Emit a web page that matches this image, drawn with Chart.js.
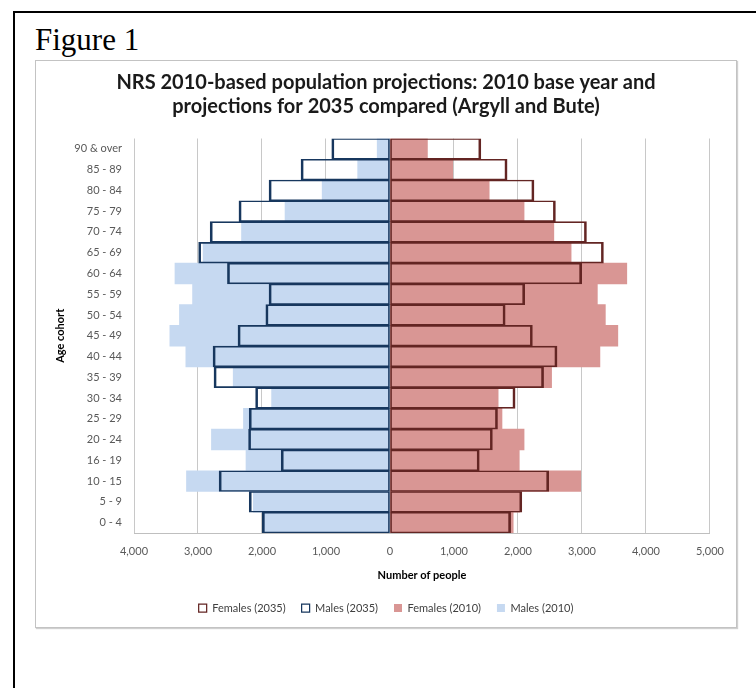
<!DOCTYPE html>
<html><head><meta charset="utf-8">
<script src="https://cdn.jsdelivr.net/npm/chart.js@4"></script>
<style>
html,body{margin:0;padding:0;background:#fff;width:756px;height:688px;overflow:hidden;}
#frame{position:absolute;left:13px;top:11px;width:800px;height:800px;border-top:2px solid #000;border-left:2px solid #000;}
#fig{position:absolute;left:35px;top:22px;font-family:"Liberation Serif";font-size:31px;line-height:36px;color:#000;white-space:nowrap;}
#box{position:absolute;left:35px;top:60px;width:700px;height:566px;border:1px solid #c3c3c3;box-shadow:1px 1px 1px #d0d0d0;background:#fff;}
canvas{display:block}
</style></head><body>
<div id="frame"></div>
<div id="fig">Figure 1</div>
<div id="box"><canvas id="c" width="700" height="566"></canvas></div>
<script>
const ageGroups = ["0 - 4","5 - 9","10 - 15","16 - 19","20 - 24","25 - 29","30 - 34","35 - 39","40 - 44","45 - 49","50 - 54","55 - 59","60 - 64","65 - 69","70 - 74","75 - 79","80 - 84","85 - 89","90 & over"];
const males2010   = [1980, 2135, 3180, 2250, 2790, 2290, 1850, 2450, 3190, 3440, 3290, 3085, 3360, 2920, 2320, 1640, 1060, 505, 200];
const females2010 = [1925, 2030, 2980, 2020, 2095, 1750, 1690, 2525, 3280, 3560, 3365, 3240, 3700, 2830, 2560, 2095, 1550, 980, 585];
const males2035   = [1995, 2200, 2670, 1700, 2210, 2200, 2100, 2750, 2765, 2375, 1940, 1890, 2540, 2990, 2810, 2360, 1890, 1390, 910];
const females2035 = [1885, 2060, 2480, 1395, 1600, 1680, 1955, 2400, 2610, 2225, 1800, 2105, 2995, 3335, 3070, 2585, 2250, 1830, 1420];
const xTicks = {min: -4000, max: 5000, step: 1000};
const titleLines = ["NRS 2010-based population projections: 2010 base year and", "projections for 2035 compared (Argyll and Bute)"];

const F = 'Lato';
new Chart(document.getElementById('c'), {
  type: 'bar',
  data: {
    labels: ageGroups,
    datasets: [
      {label: 'Females (2035)', data: females2035, xAxisID: 'x', yAxisID: 'y',
       backgroundColor: 'rgba(255,255,255,0)', borderColor: '#632523',
       borderWidth: {top: 1, bottom: 1, left: 1, right: 2}, borderSkipped: false},
      {label: 'Males (2035)', data: males2035.map(v => -v), xAxisID: 'x', yAxisID: 'y',
       backgroundColor: 'rgba(255,255,255,0)', borderColor: '#17375e',
       borderWidth: {top: 1, bottom: 1, left: 2, right: 1}, borderSkipped: false},
      {label: 'Females (2010)', data: females2010, xAxisID: 'x', yAxisID: 'y',
       backgroundColor: '#d99694', borderWidth: 0},
      {label: 'Males (2010)', data: males2010.map(v => -v), xAxisID: 'x', yAxisID: 'y',
       backgroundColor: '#c6d9f1', borderWidth: 0}
    ]
  },
  options: {
    indexAxis: 'y',
    responsive: false,
    animation: false,
    datasets: {bar: {grouped: false, barPercentage: 1, categoryPercentage: 1}},
    layout: {padding: {left: 0, right: 0, top: 0, bottom: 3.5}},
    plugins: {
      title: {display: true, text: titleLines, color: '#1a1a1a',
        font: {family: F, size: 20, weight: 'bold', lineHeight: 1.2}, padding: {top: 10, bottom: 19.5}},
      legend: {position: 'bottom',
        labels: {font: {family: F, size: 11}, color: '#404040', boxWidth: 8, boxHeight: 8, padding: 16}},
      tooltip: {enabled: false}
    },
    scales: {
      x: {min: xTicks.min, max: xTicks.max,
        ticks: {stepSize: xTicks.step, callback: v => Math.abs(v).toLocaleString('en-US'),
          font: {family: F, size: 11}, color: '#595959', padding: 12, maxRotation: 0},
        grid: {color: '#c8c8c8', drawTicks: false},
        border: {color: '#bfbfbf'},
        title: {display: true, text: 'Number of people', color: '#000',
          font: {family: F, size: 11, weight: 'bold'}, padding: {top: 0, bottom: 4}},
        afterFit: s => { s.height = 53.5; }
      },
      y: {reverse: true, position: 'left',
        grid: {display: false, drawTicks: false}, border: {display: false},
        ticks: {font: {family: F, size: 11}, color: '#595959', padding: 12},
        title: {display: true, text: 'Age cohort', color: '#000',
          font: {family: F, size: 11, weight: 'bold'}, padding: {top: 18, bottom: 4}},
        afterFit: s => { s.width = 98; }
      },
      yRight: {type: 'category', position: 'right', display: true,
        grid: {display: false, drawTicks: false}, border: {display: false},
        ticks: {display: false},
        afterFit: s => { s.width = 26; }
      }
    }
  }
});
</script>
</body></html>
